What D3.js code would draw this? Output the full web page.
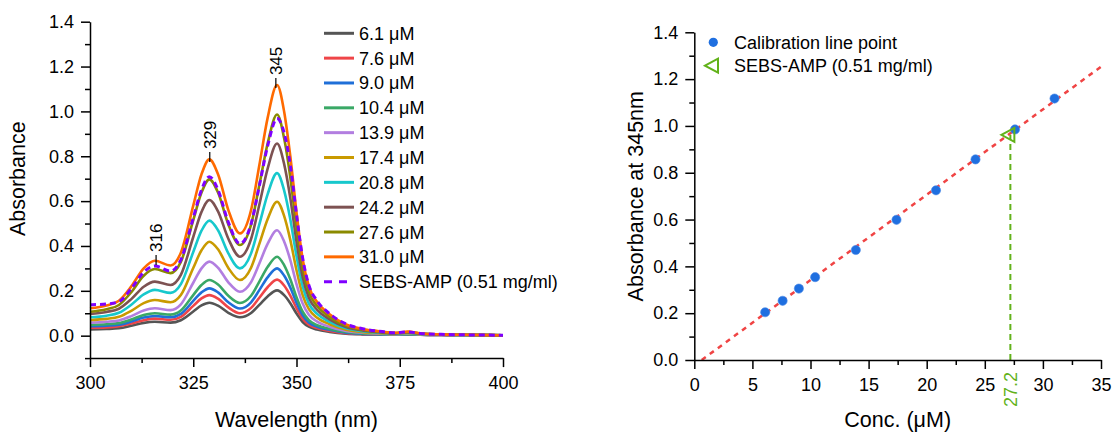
<!DOCTYPE html>
<html><head><meta charset="utf-8">
<script src="https://cdn.jsdelivr.net/npm/d3@7"></script>
<style>
body{margin:0;background:#fff}
text{font-family:"Liberation Sans",Arial,Helvetica,sans-serif;fill:#000}
</style>
</head><body>
<svg id="c" width="1112" height="432"></svg>
<script>
// ---------------- DATA ----------------
const wavelengths = [300, 304, 307, 310, 313, 315.7, 319.5, 322, 325, 327, 328.9, 331, 333.5, 336.3, 339, 341, 343, 345.3, 347, 348.5, 350, 351.5, 353, 355, 358, 362, 366, 370, 374, 377, 380, 385, 390, 400];

const seriesLabels = ["6.1 μM","7.6 μM","9.0 μM","10.4 μM","13.9 μM","17.4 μM","20.8 μM","24.2 μM","27.6 μM","31.0 μM","SEBS-AMP (0.51 mg/ml)"];
const seriesColors = ["#555555","#ef4548","#1f6fd8","#3aa866","#b27ee0","#c99a00","#17c8cc","#7d5252","#8a8a00","#ff6a00","#7f00ff"];

const abs_6_1  = [0.028,0.030,0.033,0.044,0.057,0.062,0.058,0.069,0.108,0.135,0.147,0.134,0.102,0.082,0.101,0.137,0.175,0.202,0.181,0.145,0.099,0.061,0.040,0.027,0.017,0.009,0.006,0.005,0.004,0.005,0.004,0.003,0.002,0.002];
const abs_7_6  = [0.035,0.037,0.042,0.054,0.069,0.076,0.071,0.084,0.133,0.166,0.181,0.165,0.126,0.100,0.124,0.169,0.216,0.250,0.224,0.179,0.123,0.076,0.049,0.034,0.021,0.011,0.007,0.005,0.004,0.006,0.004,0.003,0.002,0.002];
const abs_9_0  = [0.042,0.045,0.049,0.063,0.081,0.088,0.082,0.097,0.155,0.193,0.211,0.193,0.149,0.121,0.149,0.203,0.260,0.300,0.268,0.215,0.147,0.091,0.059,0.040,0.026,0.013,0.008,0.006,0.005,0.007,0.005,0.003,0.003,0.002];
const abs_10_4 = [0.048,0.051,0.056,0.072,0.092,0.100,0.094,0.112,0.181,0.226,0.248,0.228,0.178,0.146,0.178,0.241,0.306,0.352,0.315,0.252,0.172,0.107,0.069,0.047,0.030,0.016,0.010,0.007,0.005,0.007,0.005,0.004,0.003,0.002];
const abs_13_9 = [0.058,0.062,0.068,0.087,0.112,0.122,0.114,0.140,0.236,0.300,0.330,0.303,0.238,0.196,0.239,0.322,0.409,0.470,0.420,0.337,0.230,0.143,0.093,0.063,0.040,0.021,0.013,0.009,0.007,0.009,0.006,0.004,0.003,0.002];
const abs_17_4 = [0.070,0.075,0.084,0.111,0.145,0.159,0.149,0.181,0.302,0.381,0.419,0.385,0.302,0.248,0.303,0.409,0.519,0.597,0.534,0.427,0.293,0.181,0.118,0.080,0.051,0.027,0.016,0.011,0.008,0.011,0.007,0.005,0.003,0.002];
const abs_20_8 = [0.082,0.089,0.102,0.138,0.184,0.204,0.191,0.230,0.373,0.468,0.513,0.470,0.367,0.300,0.367,0.496,0.630,0.725,0.648,0.519,0.355,0.220,0.143,0.097,0.062,0.033,0.020,0.013,0.009,0.012,0.008,0.005,0.003,0.002];
const abs_24_2 = [0.097,0.106,0.120,0.163,0.218,0.241,0.226,0.271,0.440,0.552,0.605,0.554,0.432,0.352,0.431,0.584,0.744,0.857,0.766,0.614,0.420,0.261,0.169,0.115,0.073,0.039,0.023,0.015,0.010,0.014,0.009,0.005,0.004,0.002];
const abs_27_6 = [0.107,0.118,0.137,0.194,0.267,0.297,0.279,0.329,0.515,0.638,0.697,0.638,0.496,0.404,0.495,0.672,0.856,0.986,0.881,0.706,0.483,0.300,0.194,0.132,0.084,0.044,0.027,0.018,0.012,0.016,0.010,0.006,0.004,0.002];
const abs_31_0 = [0.122,0.135,0.156,0.220,0.300,0.334,0.313,0.370,0.580,0.720,0.786,0.720,0.560,0.456,0.560,0.760,0.970,1.118,1.000,0.800,0.550,0.340,0.220,0.150,0.095,0.050,0.030,0.020,0.013,0.018,0.010,0.006,0.004,0.002];
const abs_sebs = [0.138,0.141,0.152,0.210,0.283,0.311,0.288,0.338,0.525,0.650,0.709,0.650,0.505,0.410,0.498,0.668,0.845,0.968,0.905,0.760,0.540,0.345,0.225,0.155,0.098,0.052,0.031,0.020,0.013,0.017,0.010,0.006,0.004,0.002];

const peakWavelengths = [316, 329, 345];
const peakLabelValues = [0.315, 0.774, 1.104];

const leftXTicks = [300, 325, 350, 375, 400];
const leftXMinor = [312.5, 337.5, 362.5, 387.5];
const leftYTicks = [0.0, 0.2, 0.4, 0.6, 0.8, 1.0, 1.2, 1.4];
const leftYMinor = [-0.1, 0.1, 0.3, 0.5, 0.7, 0.9, 1.1, 1.3];

const calibConc = [6.1, 7.6, 9.0, 10.4, 13.9, 17.4, 20.8, 24.2, 27.6, 31.0];
const calibAbs  = [0.204, 0.253, 0.305, 0.354, 0.470, 0.599, 0.725, 0.857, 0.985, 1.117];
const fitConc = [0.64, 35];
const fitAbs  = [0.0, 1.253];
const sampleConc = 27.2;
const sampleAbs = 0.962;
const sampleLabel = "27.2";

const rightXTicks = [0, 5, 10, 15, 20, 25, 30, 35];
const rightXMinor = [2.5, 7.5, 12.5, 17.5, 22.5, 27.5, 32.5];
const rightYTicks = [0.0, 0.2, 0.4, 0.6, 0.8, 1.0, 1.2, 1.4];
const rightYMinor = [0.1, 0.3, 0.5, 0.7, 0.9, 1.1, 1.3];

const rightLegend = ["Calibration line point", "SEBS-AMP (0.51 mg/ml)"];

// ---------------- DRAW ----------------
const svg = d3.select("#c");
const spectra = [abs_6_1, abs_7_6, abs_9_0, abs_10_4, abs_13_9, abs_17_4, abs_20_8, abs_24_2, abs_27_6, abs_31_0, abs_sebs];

const xL = d3.scaleLinear().domain([300, 400]).range([90, 503]);
const yL = d3.scaleLinear().domain([-0.1, 1.4]).range([358.1, 21.7]);
const xR = d3.scaleLinear().domain([0, 35]).range([694.3, 1101]);
const yR = d3.scaleLinear().domain([0, 1.4]).range([360, 32.3]);

const TICKFONT = "18px";

function styleAxis(g) {
  g.select(".domain").attr("stroke", "#000").attr("stroke-width", 1.5);
  g.selectAll(".tick line").attr("stroke", "#000").attr("stroke-width", 1.5);
  g.selectAll(".tick text").style("font-size", TICKFONT).attr("fill", "#000")
    .style("font-family", '"Liberation Sans",Arial,sans-serif');
}

function drawAxes(x, y, xt, xm, yt, ym, x0, y0) {
  const gx = svg.append("g").attr("transform", `translate(0,${y0})`)
    .call(d3.axisBottom(x).tickValues(xt).tickSize(9).tickSizeOuter(0).tickPadding(9).tickFormat(d3.format("d")));
  styleAxis(gx);
  const gxm = svg.append("g").attr("transform", `translate(0,${y0})`)
    .call(d3.axisBottom(x).tickValues(xm).tickSize(5).tickSizeOuter(0).tickFormat(""));
  gxm.select(".domain").remove(); styleAxis(gxm);
  const gy = svg.append("g").attr("transform", `translate(${x0},0)`)
    .call(d3.axisLeft(y).tickValues(yt).tickSize(9).tickSizeOuter(0).tickPadding(7).tickFormat(d3.format(".1f")));
  styleAxis(gy);
  const gym = svg.append("g").attr("transform", `translate(${x0},0)`)
    .call(d3.axisLeft(y).tickValues(ym).tickSize(5).tickSizeOuter(0).tickFormat(""));
  gym.select(".domain").remove(); styleAxis(gym);
}

// ---- Left panel ----
const line = d3.line().x((d, i) => xL(wavelengths[i])).y(d => yL(d)).curve(d3.curveMonotoneX);
spectra.forEach((s, k) => {
  const p = svg.append("path").datum(s).attr("d", line)
    .attr("fill", "none").attr("stroke", seriesColors[k]).attr("stroke-width", 2.6)
    .attr("stroke-linejoin", "round");
  if (k === spectra.length - 1) p.attr("stroke-dasharray", "6,4").attr("stroke-width", 3);
});

drawAxes(xL, yL, leftXTicks, leftXMinor, leftYTicks, leftYMinor, 90, 358.1);

// peak labels
peakWavelengths.forEach((w, i) => {
  const px = xL(w), py = yL(peakLabelValues[i]);
  svg.append("line").attr("x1", px).attr("x2", px).attr("y1", py).attr("y2", py - 10)
    .attr("stroke", "#000").attr("stroke-width", 1.2);
  svg.append("text").attr("transform", `translate(${px + 6},${py - 13}) rotate(-90)`)
    .style("font-size", "17px").text(String(w));
});

// left legend
seriesLabels.forEach((lab, k) => {
  const cy = 33.3 + k * 24.84;
  const l = svg.append("line").attr("x1", 324).attr("x2", 354).attr("y1", cy).attr("y2", cy)
    .attr("stroke", seriesColors[k]).attr("stroke-width", 3);
  if (k === seriesLabels.length - 1) l.attr("stroke-dasharray", "8,7");
  svg.append("text").attr("x", 359).attr("y", cy + 6.5).style("font-size", "18px").text(lab);
});

svg.append("text").attr("transform", `translate(25,178.7) rotate(-90)`).attr("text-anchor", "middle")
  .style("font-size", "21.5px").text("Absorbance");
svg.append("text").attr("x", 296.5).attr("y", 427).attr("text-anchor", "middle")
  .style("font-size", "21.5px").text("Wavelength (nm)");

// ---- Right panel ----
const green = "#62b21a";
svg.append("line").attr("x1", xR(fitConc[0])).attr("y1", yR(fitAbs[0]))
  .attr("x2", xR(fitConc[1])).attr("y2", yR(fitAbs[1]))
  .attr("stroke", "#f04444").attr("stroke-width", 2.5).attr("stroke-dasharray", "5,5");

svg.append("line").attr("x1", xR(sampleConc)).attr("x2", xR(sampleConc))
  .attr("y1", yR(0)).attr("y2", yR(sampleAbs))
  .attr("stroke", green).attr("stroke-width", 2).attr("stroke-dasharray", "6,4");

svg.selectAll("circle.cal").data(calibConc).enter().append("circle").attr("class", "cal")
  .attr("cx", d => xR(d)).attr("cy", (d, i) => yR(calibAbs[i])).attr("r", 4.6)
  .attr("fill", "#1f6fe0").attr("stroke", "#4a8ae8").attr("stroke-width", 0.6);

function triPath(cx, cy) {
  return `M${cx - 8},${cy} L${cx + 5},${cy - 7} L${cx + 5},${cy + 7} Z`;
}
svg.append("path").attr("d", triPath(xR(sampleConc) - 1, yR(sampleAbs)))
  .attr("fill", "none").attr("stroke", green).attr("stroke-width", 2);

drawAxes(xR, yR, rightXTicks, rightXMinor, rightYTicks, rightYMinor, 694.3, 360);

svg.append("text").attr("transform", `translate(${xR(sampleConc) + 6.5},407) rotate(-90)`)
  .style("font-size", "18px").style("fill", green).text(sampleLabel);

// right legend
svg.append("circle").attr("cx", 713.3).attr("cy", 42.3).attr("r", 4.6).attr("fill", "#1f6fe0");
svg.append("path").attr("d", triPath(713, 65.7)).attr("fill", "none").attr("stroke", green).attr("stroke-width", 2);
rightLegend.forEach((lab, k) => {
  svg.append("text").attr("x", 734).attr("y", 42.3 + k * 23.4 + 6.5).style("font-size", "18px").text(lab);
});

svg.append("text").attr("transform", `translate(643,196.2) rotate(-90)`).attr("text-anchor", "middle")
  .style("font-size", "21.5px").text("Absorbance at 345nm");
svg.append("text").attr("x", 897.7).attr("y", 427).attr("text-anchor", "middle")
  .style("font-size", "21.5px").text("Conc. (μM)");
</script>
</body></html>
